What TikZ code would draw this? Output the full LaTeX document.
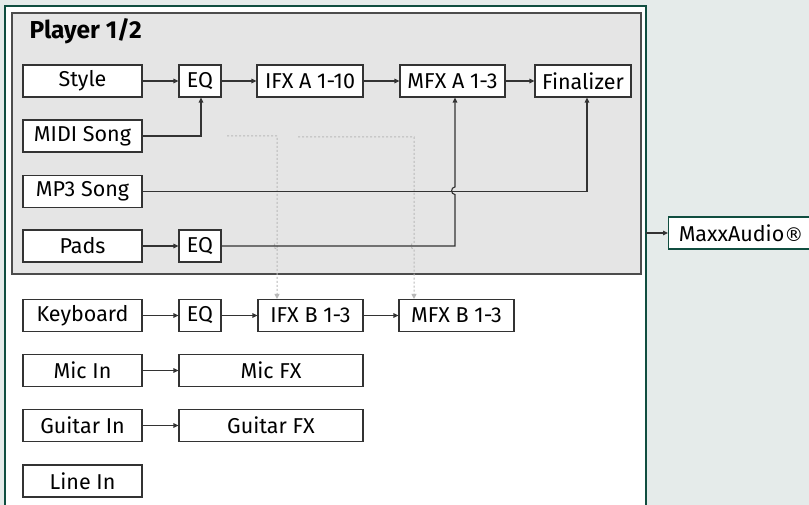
\documentclass[tikz,border=0pt]{standalone}
\usepackage{fontspec}
\setmainfont{Fira Sans}
\newfontfamily\symfont{DejaVu Sans}
\usetikzlibrary{arrows.meta,calc}
\definecolor{bggreen}{RGB}{229,235,234}
\definecolor{darkgreen}{RGB}{16,78,64}
\definecolor{playergray}{RGB}{229,229,229}
\definecolor{linegray}{RGB}{51,51,51}
\definecolor{dotgray}{RGB}{185,185,185}
\tikzset{
  blk/.style={draw=linegray, fill=white, line width=1.1pt, inner sep=0pt, minimum height=32pt, font=\fontsize{21.5}{23}\selectfont},
  conn/.style={draw=linegray, line width=1.1pt, -{Triangle[length=5pt,width=4.5pt]}},
  dotconn/.style={draw=dotgray, line width=1pt, dash pattern=on 2pt off 2pt, -{Triangle[length=5pt,width=5pt]}},
}
\begin{document}
\begin{tikzpicture}[x=1pt,y=-1pt]
\useasboundingbox (0,0) rectangle (809,505);
\fill[bggreen] (0,0) rectangle (809,505);
\draw[darkgreen, line width=2.5pt, fill=white] (5,520) -- (5,6) -- (646,6) -- (646,520);
\draw[gray!60!black, line width=1.5pt, fill=playergray] (12,13) rectangle (641,274);
\node[anchor=west, font=\bfseries\fontsize{24.5}{26}\selectfont] (title) at (26,31) {Player 1/2};

\node[blk, minimum width=119pt] (style) at (82.5,81) {Style};
\node[blk, minimum width=42pt] (eqA) at (200,81) {EQ};
\node[blk, minimum width=106pt] (ifxA) at (310,81) {IFX A 1-10};
\node[blk, minimum width=105pt] (mfxA) at (452.5,81) {MFX A 1-3};
\node[blk, minimum width=96pt] (final) at (583,81) {Finalizer};
\node[blk, minimum width=119pt] (midi) at (82.5,136) {MIDI Song};
\node[blk, minimum width=119pt] (mp3) at (82.5,191.5) {MP3 Song};
\node[blk, minimum width=119pt] (pads) at (82.5,246) {Pads};
\node[blk, minimum width=42pt] (eqP) at (200,246) {EQ};

\node[blk, minimum width=119pt] (kbd) at (82.5,315.5) {Keyboard};
\node[blk, minimum width=42pt] (eqK) at (200,315.5) {EQ};
\node[blk, minimum width=105pt] (ifxB) at (310.5,315.5) {IFX B 1-3};
\node[blk, minimum width=115pt] (mfxB) at (456.5,315.5) {MFX B 1-3};
\node[blk, minimum width=119pt] (mic) at (82.5,370.5) {Mic In};
\node[blk, minimum width=184pt] (micfx) at (271,370.5) {Mic FX};
\node[blk, minimum width=119pt] (guit) at (82.5,425.5) {Guitar In};
\node[blk, minimum width=184pt] (guitfx) at (271,425.5) {Guitar FX};
\node[blk, minimum width=119pt] (line) at (82.5,481) {Line In};
\node[blk, draw=darkgreen, minimum width=142pt, anchor=west] (maxx) at (668,233) {\hspace*{3pt}MaxxAudio{\symfont\fontsize{19}{20}\selectfont ®}\hfill};

% dotted connectors
\coordinate (d1) at (227,136);
\coordinate (d2) at (298,137);
\draw[dotconn] (d1) -- (277,136) -- (277,249) .. controls (273,249) and (273,243) .. (277,243) (277,249) -- (ifxB.north -| 277,0);
\draw[dotconn] (d2) -- (414,137) -- (414,243) .. controls (410,243) and (410,249) .. (414,249) -- (mfxB.north -| 414,0);

% main connectors
\draw[conn] (style) -- (eqA);
\draw[conn] (eqA) -- (ifxA);
\draw[conn] (ifxA) -- (mfxA);
\draw[conn] (mfxA) -- (final);
\draw[conn] (midi.east) -| ($(eqA.south)+(1,0)$);
\draw[conn] (mp3.east) -| ($(final.south)+(4,0)$);
\draw[conn] (pads) -- (eqP);
\draw[conn] (eqP.east) -- (455,246) -- (455,194.5) .. controls (450.5,194.5) and (450.5,187) .. (455,187) -- ($(mfxA.south)+(2.5,0)$);
\draw[conn] (kbd) -- (eqK);
\draw[conn] (eqK) -- (ifxB);
\draw[conn] (ifxB) -- (mfxB);
\draw[conn] (mic) -- (micfx);
\draw[conn] (guit) -- (guitfx);
\coordinate (pout) at (646,233);
\draw[conn] (pout) -- (maxx.west);
\end{tikzpicture}
\end{document}
